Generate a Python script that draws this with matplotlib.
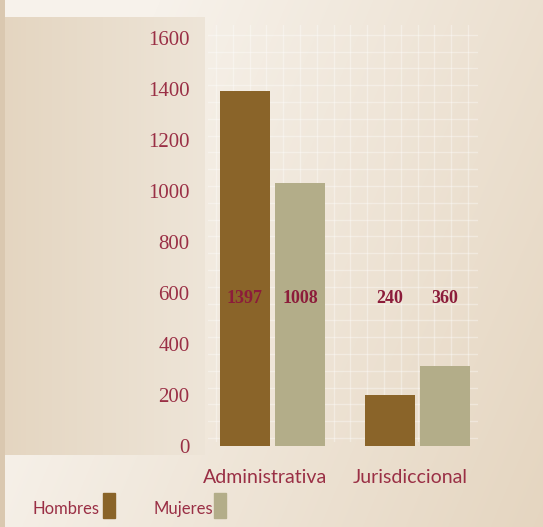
import numpy as np
import matplotlib
matplotlib.use("Agg")
import matplotlib.pyplot as plt
from matplotlib.patches import Rectangle

# data
categories = ["Administrativa", "Jurisdiccional"]
series = ["Hombres", "Mujeres"]
bar_hombres = [1390, 200]      # bar heights as drawn
bar_mujeres = [1030, 315]
label_hombres = ["1397", "240"]  # printed numbers
label_mujeres = ["1008", "360"]
yticks = [0, 200, 400, 600, 800, 1000, 1200, 1400, 1600]

W, H = 543, 527
c_h = "#8a6429"
c_m = "#b3ad89"
c_txt = "#9a2f45"
c_val = "#8c1c3a"

fig = plt.figure(figsize=(W / 100, H / 100), dpi=100)

# background gradient
yy, xx = np.mgrid[0:H, 0:W]
light = np.array([247, 242, 235]) / 255
dark = np.array([228, 212, 190]) / 255
t = np.clip(xx / W * 0.85 + yy / H * 0.35 - 0.25, 0, 1)[..., None]
img = light * (1 - t) + dark * t
# left panel
pl = np.array([228, 213, 192]) / 255
pr = np.array([238, 229, 216]) / 255
s = (xx / 205.0)[..., None]
panel = pl * (1 - s) + pr * s
mask = (xx >= 5) & (xx < 205) & (yy >= 17) & (yy < 455)
img[mask] = panel[mask]
img[:, :5] = np.array([218, 200, 176]) / 255
bg = fig.add_axes([0, 0, 1, 1], zorder=-2)
bg.imshow(img, aspect="auto", extent=[0, W, H, 0])
bg.axis("off")

# faint white grid behind the bars
gx0, gx1, gy0, gy1 = 208, 478, 25, 442
gax = fig.add_axes([gx0 / W, 1 - gy1 / H, (gx1 - gx0) / W, (gy1 - gy0) / H], zorder=-1)
gax.set_xlim(0, gx1 - gx0)
gax.set_ylim(0, gy1 - gy0)
gax.set_facecolor("none")
gax.set_xticks(np.arange(8, gx1 - gx0, 16.8))
gax.set_yticks(np.arange(4, gy1 - gy0, 16.8))
gax.grid(True, color="white", lw=1.0, alpha=0.35)
gax.tick_params(length=0, labelbottom=False, labelleft=False)
for sp in gax.spines.values():
    sp.set_visible(False)

# main axes
ax = fig.add_axes([205 / W, 1 - 455 / H, 338 / W, 438 / H])
ax.set_facecolor("none")
ax.set_xlim(-0.466, 1.866)
ax.set_ylim(-35, 1682)
x = np.arange(len(categories))
w = 0.345
off = 0.19
ax.bar(x - off, bar_hombres, w, color=c_h, zorder=3)
ax.bar(x + off, bar_mujeres, w, color=c_m, zorder=3)

for i in range(len(categories)):
    ax.text(x[i] - off, 580, label_hombres[i], ha="center", va="center",
            fontsize=13, fontweight="bold", family="Liberation Serif", color=c_val, zorder=4)
    ax.text(x[i] + off, 580, label_mujeres[i], ha="center", va="center",
            fontsize=13, fontweight="bold", family="Liberation Serif", color=c_val, zorder=4)
    ax.text(x[i] - 0.05, -125, categories[i], ha="center", va="center",
            fontsize=14, family="Lato", color=c_txt)

ax.set_yticks(yticks)
ax.set_yticklabels([str(v) for v in yticks], family="Liberation Serif", fontsize=15, color=c_txt)
ax.tick_params(axis="y", length=0, pad=11)
ax.set_xticks([])
for sp in ax.spines.values():
    sp.set_visible(False)

# legend
fig.text(99 / W, 1 - 509 / H, "Hombres", ha="right", va="center",
         fontsize=12, family="Lato", color=c_txt)
fig.text(213 / W, 1 - 509 / H, "Mujeres", ha="right", va="center",
         fontsize=12, family="Lato", color=c_txt)
fig.patches.append(Rectangle((103 / W, 1 - 518 / H), 12 / W, 25 / H,
                             transform=fig.transFigure, color=c_h))
fig.patches.append(Rectangle((214 / W, 1 - 518 / H), 12 / W, 25 / H,
                             transform=fig.transFigure, color=c_m))

fig.savefig("out.png", dpi=100)
